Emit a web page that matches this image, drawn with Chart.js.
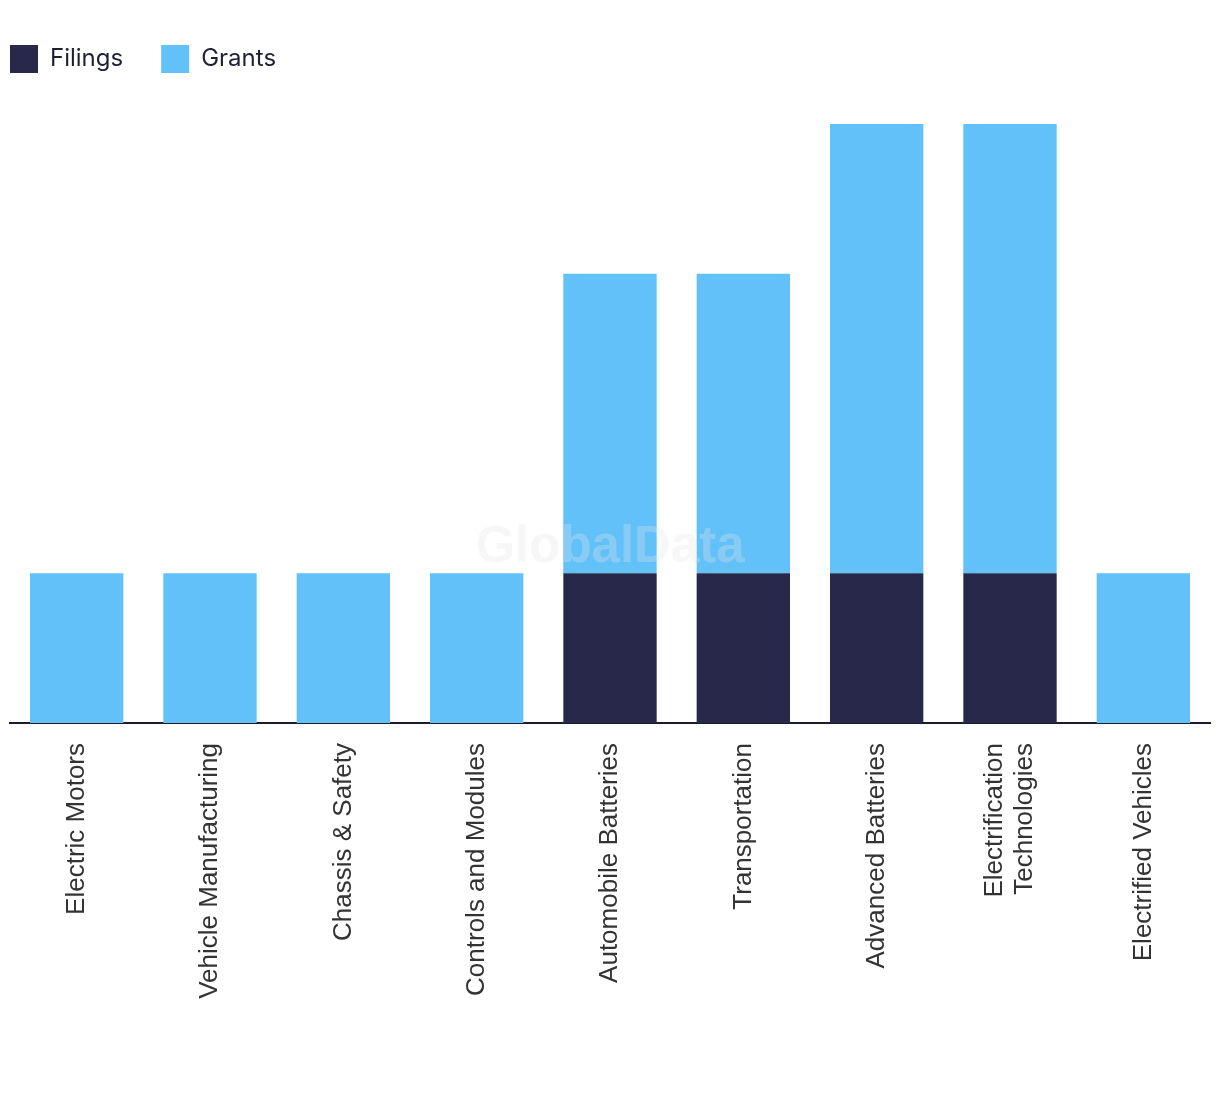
<!DOCTYPE html>
<html>
<head>
<meta charset="utf-8">
<script src="https://cdn.jsdelivr.net/npm/chart.js@4.4.0/dist/chart.umd.min.js"></script>
<style>
  html, body { margin: 0; padding: 0; background: #fff; }
  #wrap { width: 1220px; height: 1094px; position: relative; }
</style>
</head>
<body>
<div id="wrap"><canvas id="chart"></canvas></div>
<script>
// categorias y valores
const categories = [
    'Electric Motors',
    'Vehicle Manufacturing',
    'Chassis & Safety',
    'Controls and Modules',
    'Automobile Batteries',
    'Transportation',
    'Advanced Batteries',
    ['Electrification', 'Technologies'],
    'Electrified Vehicles'
];
const filings = [0, 0, 0, 0, 1, 1, 1, 1, 0];
const grants = [1, 1, 1, 1, 2, 2, 3, 3, 1];

// marca de agua
const watermark = {
    id: 'watermark',
    afterDatasetsDraw(chart) {
        const c = chart.ctx;
        c.save();
        c.font = 'bold 51px "Liberation Sans", Arial, sans-serif';
        c.fillStyle = 'rgba(230, 230, 230, 0.3)';
        c.textAlign = 'center';
        c.textBaseline = 'middle';
        c.fillText('GlobalData', 610, 548);
        c.restore();
    }
};

// leyenda: altura fija y pegada a la izquierda
const legendFix = {
    id: 'legendFix',
    beforeInit(chart) {
        const fit = chart.legend.fit;
        chart.legend.fit = function () {
            fit.call(this);
            this.height = 117;
        };
    },
    afterLayout(chart) {
        chart.legend.left = 10 - 38;
    },
    // centrar etiquetas de varias lineas sobre su barra
    beforeDraw(chart) {
        const items = chart.scales.x.getLabelItems();
        items.forEach(it => {
            if (Array.isArray(it.label) && it.label.length > 1) {
                it.options.translation[0] -= (it.label.length - 1) * 30 / 2;
            }
        });
    }
};

const ctx = document.getElementById('chart').getContext('2d');
new Chart(ctx, {
    type: 'bar',
    data: {
        labels: categories,
        datasets: [{
            label: 'Filings',
            data: filings,
            backgroundColor: '#27284A',
            barPercentage: 0.7,
            categoryPercentage: 1
        }, {
            label: 'Grants',
            data: grants,
            backgroundColor: '#62C1F9',
            barPercentage: 0.7,
            categoryPercentage: 1
        }]
    },
    options: {
        responsive: true,
        maintainAspectRatio: false,
        animation: false,
        layout: {
            padding: { top: 7, left: 10, right: 10, bottom: 0 }
        },
        plugins: {
            legend: {
                position: 'top',
                align: 'start',
                labels: {
                    boxWidth: 28,
                    boxHeight: 28,
                    padding: 38,
                    color: '#1F2033',
                    font: { family: 'Inter', size: 24 }
                }
            },
            tooltip: { enabled: false }
        },
        scales: {
            x: {
                stacked: true,
                grid: { display: false, drawTicks: false },
                border: { display: true, color: '#1C1C2E', width: 2 },
                ticks: {
                    minRotation: 90,
                    maxRotation: 90,
                    padding: 20,
                    color: '#333333',
                    font: { family: 'Liberation Sans', size: 26, lineHeight: 1.15 }
                },
                afterFit(scale) {
                    scale.height = 371;
                }
            },
            y: {
                stacked: true,
                display: false,
                min: 0,
                max: 4
            }
        }
    },
    plugins: [watermark, legendFix]
});
</script>
</body>
</html>
